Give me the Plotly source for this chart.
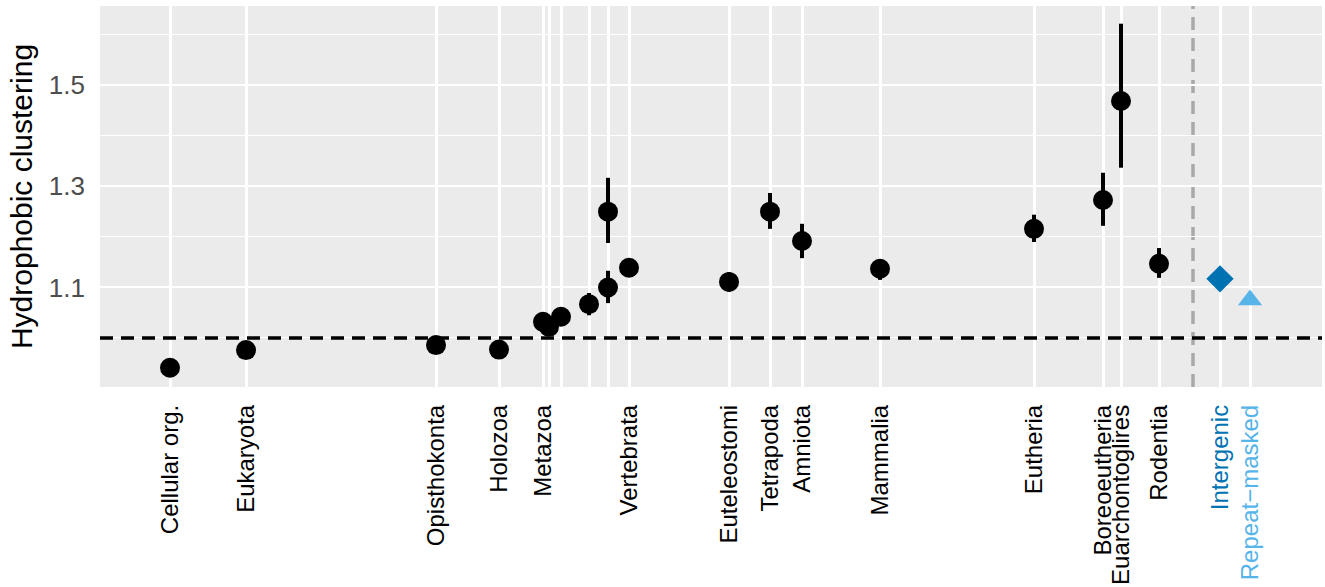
import plotly.graph_objects as go

# Taxa (phylostrata) placed on a continuous axis (relative position units)
taxa = ["Cellular org.", "Eukaryota", "Opisthokonta", "Holozoa", "Metazoa",
        "", "", "", "", "", "Vertebrata", "Euteleostomi", "Tetrapoda",
        "Amniota", "Mammalia", "Eutheria", "Boreoeutheria",
        "Euarchontoglires", "Rodentia"]
taxa_x = [7.0, 14.6, 33.6, 39.9, 44.3, 44.9, 46.1, 48.9, 50.8, 50.8, 52.9,
          62.9, 67.0, 70.2, 78.0, 93.4, 100.3, 102.1, 105.9]
clustering = [0.941, 0.976, 0.986, 0.977, 1.032, 1.022, 1.042, 1.067, 1.100,
              1.250, 1.139, 1.111, 1.250, 1.192, 1.137, 1.216, 1.273, 1.469, 1.147]
err_hi = [0.941, 0.980, 0.990, 0.980, 1.034, 1.024, 1.044, 1.089, 1.133,
          1.317, 1.145, 1.130, 1.287, 1.226, 1.156, 1.244, 1.327, 1.622, 1.178]
err_lo = [0.941, 0.972, 0.982, 0.974, 1.030, 1.020, 1.040, 1.045, 1.069,
          1.188, 1.133, 1.092, 1.216, 1.158, 1.115, 1.190, 1.222, 1.337, 1.119]

# Controls
ctrl_names = ["Intergenic", "Repeat\u2212masked"]
ctrl_x = [112.0, 115.0]
ctrl_vals = [1.117, 1.075]
ctrl_colors = ["#0072B2", "#56B4E9"]
ctrl_symbols = ["diamond", "triangle-up"]

separator_x = 109.3
null_level = 1.0

y_ticks = [1.1, 1.3, 1.5]
y_minor = [1.0, 1.2, 1.4, 1.6]

fig = go.Figure()

# dashed reference lines
fig.add_shape(type="line", xref="x", yref="paper", x0=separator_x, x1=separator_x,
              y0=0, y1=1, line=dict(color="#A9A9A9", width=3.5, dash="13px,8px"), layer="below")
fig.add_shape(type="line", xref="paper", yref="y", x0=0, x1=1, y0=null_level, y1=null_level,
              line=dict(color="black", width=3.5, dash="13px,8px"), layer="above")

fig.add_trace(go.Scatter(
    x=taxa_x, y=clustering, mode="markers",
    marker=dict(color="black", size=20, line=dict(width=0)),
    error_y=dict(type="data", symmetric=False,
                 array=[h - v for h, v in zip(err_hi, clustering)],
                 arrayminus=[v - l for l, v in zip(err_lo, clustering)],
                 color="black", thickness=4, width=0),
    showlegend=False, cliponaxis=False))

for nx, nv, nc, ns in zip(ctrl_x, ctrl_vals, ctrl_colors, ctrl_symbols):
    fig.add_trace(go.Scatter(
        x=[nx], y=[nv], mode="markers",
        marker=dict(color=nc, size=21, symbol=ns, line=dict(width=0)),
        showlegend=False))

tickvals = taxa_x + ctrl_x
ticktext = taxa + [f'<span style="color:{c}">{n}</span>' for n, c in zip(ctrl_names, ctrl_colors)]

fig.update_layout(
    width=1325, height=587,
    margin=dict(l=100, r=3, t=6, b=200, autoexpand=False),
    paper_bgcolor="white", plot_bgcolor="#EBEBEB",
    font=dict(family="Liberation Sans, Arial, sans-serif", color="black"),
    xaxis=dict(range=[0, 122.2], tickmode="array", tickvals=tickvals, ticktext=ticktext,
               tickangle=-90, tickfont=dict(size=24, color="black"),
               showgrid=True, gridcolor="white", gridwidth=2.7, zeroline=False,
               showline=False, ticks="", ticklabelstandoff=12, automargin=False),
    yaxis=dict(range=[0.903, 1.657], tickmode="array", tickvals=y_ticks,
               ticktext=["1.1", "1.3", "1.5"], tickfont=dict(size=26, color="#4D4D4D"),
               showgrid=True, gridcolor="white", gridwidth=2.4, zeroline=False,
               showline=False, ticks="", ticklabelstandoff=14, automargin=False,
               minor=dict(tickvals=y_minor, showgrid=True, gridcolor="white", gridwidth=1.2),
               title=dict(text="Hydrophobic clustering", font=dict(size=30, color="black"),
                          standoff=7)),
)

fig.write_html("out.html", config={"displayModeBar": False},
               post_script="document.body.style.margin='0';")
